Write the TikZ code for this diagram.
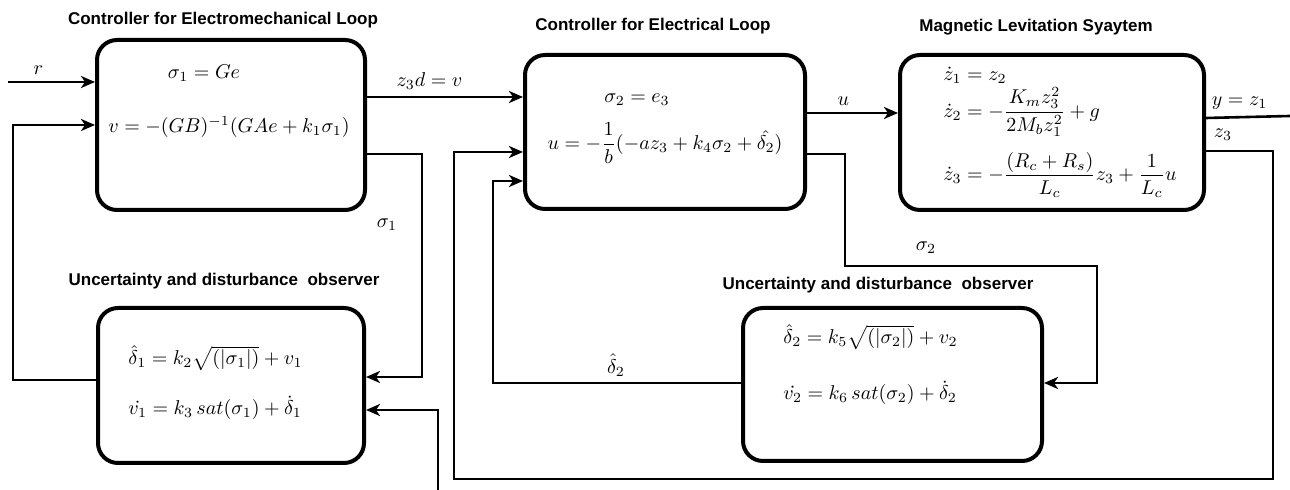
\documentclass[tikz,border=0pt]{standalone}
\usepackage{amsmath}
\usepackage{fontspec}
\newfontfamily\labelfont{Liberation Sans}
\usetikzlibrary{arrows.meta, calc, positioning}

\begin{document}
\begin{tikzpicture}[x=0.5pt, y=-0.5pt, every node/.style={font=\normalsize},
  block/.style={draw, line width=2pt, rounded corners=10pt, inner sep=0pt},
  heading/.style={font=\labelfont\bfseries\fontsize{8.5}{10}\selectfont},
  formula/.style={anchor=west, inner sep=1pt},
  link/.style={line width=1.3pt},
  feed/.style={link, -{Stealth[length=7pt, width=6pt, inset=2pt]}}]
  \useasboundingbox (0,0) rectangle (1290,490);
  % blocks
  \node[block, minimum width=134pt, minimum height=85pt] (ctrlA) at (231,125) {};
  \node[block, minimum width=140pt, minimum height=77pt] (ctrlB) at (665,132) {};
  \node[block, minimum width=152pt, minimum height=77.5pt] (plant) at (1052,132.5) {};
  \node[block, minimum width=133pt, minimum height=77.5pt] (obsA) at (231,385.5) {};
  \node[block, minimum width=149.5pt, minimum height=76.5pt] (obsB) at (892.5,384.5) {};
  % titles
  \node[heading] (tCtrlA) at (223,20) {Controller for Electromechanical Loop};
  \node[heading] (tCtrlB) at (653,26) {Controller for Electrical Loop};
  \node[heading] (tPlant) at (1036,27) {Magnetic Levitation Syaytem};
  \node[heading] (tObsA) at (224,281) {Uncertainty and disturbance~ observer};
  \node[heading] (tObsB) at (878,285) {Uncertainty and disturbance~ observer};
  % equations
  \node (sigA) at (204,73) {$\sigma_1 = Ge$};
  \node (lawA) at (229,127) {$v = -(GB)^{-1}(GAe + k_1\sigma_1)$};
  \node (sigB) at (637,100) {$\sigma_2 = e_3$};
  \node[inner sep=1pt] (lawB) at (665,143) {$u = -\dfrac{1}{b}(-az_3 + k_4\sigma_2 + \hat{\delta_2})$};
  \node[formula] (dzA) at (941,75) {$\dot{z}_1 = z_2$};
  \node[formula] (dzB) at (941,112) {$\dot{z}_2 = -\dfrac{K_m z_3^2}{2M_b z_1^2} + g$};
  \node[formula] (dzC) at (941,175) {$\dot{z}_3 = -\dfrac{(R_c + R_s)}{L_c} z_3 + \dfrac{1}{L_c} u$};
  \node[formula] (estA) at (126,358) {$\hat{\delta}_1 = k_2\sqrt{(|\sigma_1|)} + v_1$};
  \node[formula] (dynA) at (126,408) {$\dot{v_1} = k_3\,sat(\sigma_1) + \dot{\delta}_1$};
  \node[formula] (estB) at (781,337) {$\hat{\delta}_2 = k_5\sqrt{(|\sigma_2|)} + v_2$};
  \node[formula] (dynB) at (781,393) {$\dot{v_2} = k_6\,sat(\sigma_2) + \dot{\delta}_2$};
  % signals
  \coordinate (rIn) at (8,82);
  \coordinate (vIn) at (438,490);
  \coordinate (yOut) at (1290,116);
  \draw[feed] (rIn) -- (rIn -| ctrlA.west) node[pos=0.35, above] (lblR) {$r$};
  \draw[feed] (ctrlA.east |- 0,97) -- (ctrlB.west |- 0,97) node[pos=0.4, above] (lblV) {$z_3d = v$};
  \draw[feed] (ctrlB.east |- 0,113) -- (plant.west |- 0,113) node[pos=0.4, above] (lblU) {$u$};
  \draw[link] (plant.east |- 0,118) -- (yOut) node[pos=0.4, above] (lblY) {$y = z_1$};
  % loops
  \draw[feed] (obsA.west |- 0,380) -| (13,125) -- (ctrlA.west |- 0,125);
  \draw[feed] (ctrlA.east |- 0,154) -| (422,377) -- (obsA.east |- 0,377);
  \node (lblSigA) at (387,225) {$\sigma_1$};
  \draw[feed] (vIn) |- (obsA.east |- 0,410);
  \draw[feed] (ctrlB.east |- 0,154) -| (845,266) -| (1097,383) -- (obsB.east |- 0,383);
  \node (lblSigB) at (926,248) {$\sigma_2$};
  \draw[feed] (obsB.west |- 0,383) -| (493,181) -- (ctrlB.west |- 0,181);
  \node (lblDel) at (616,365) {$\hat{\delta}_2$};
  \draw[feed] (plant.east |- 0,151) -| (1273,479) -| (454,152) -- (ctrlB.west |- 0,152);
  \node (lblZ) at (1223,135) {$z_3$};
\end{tikzpicture}
\end{document}
